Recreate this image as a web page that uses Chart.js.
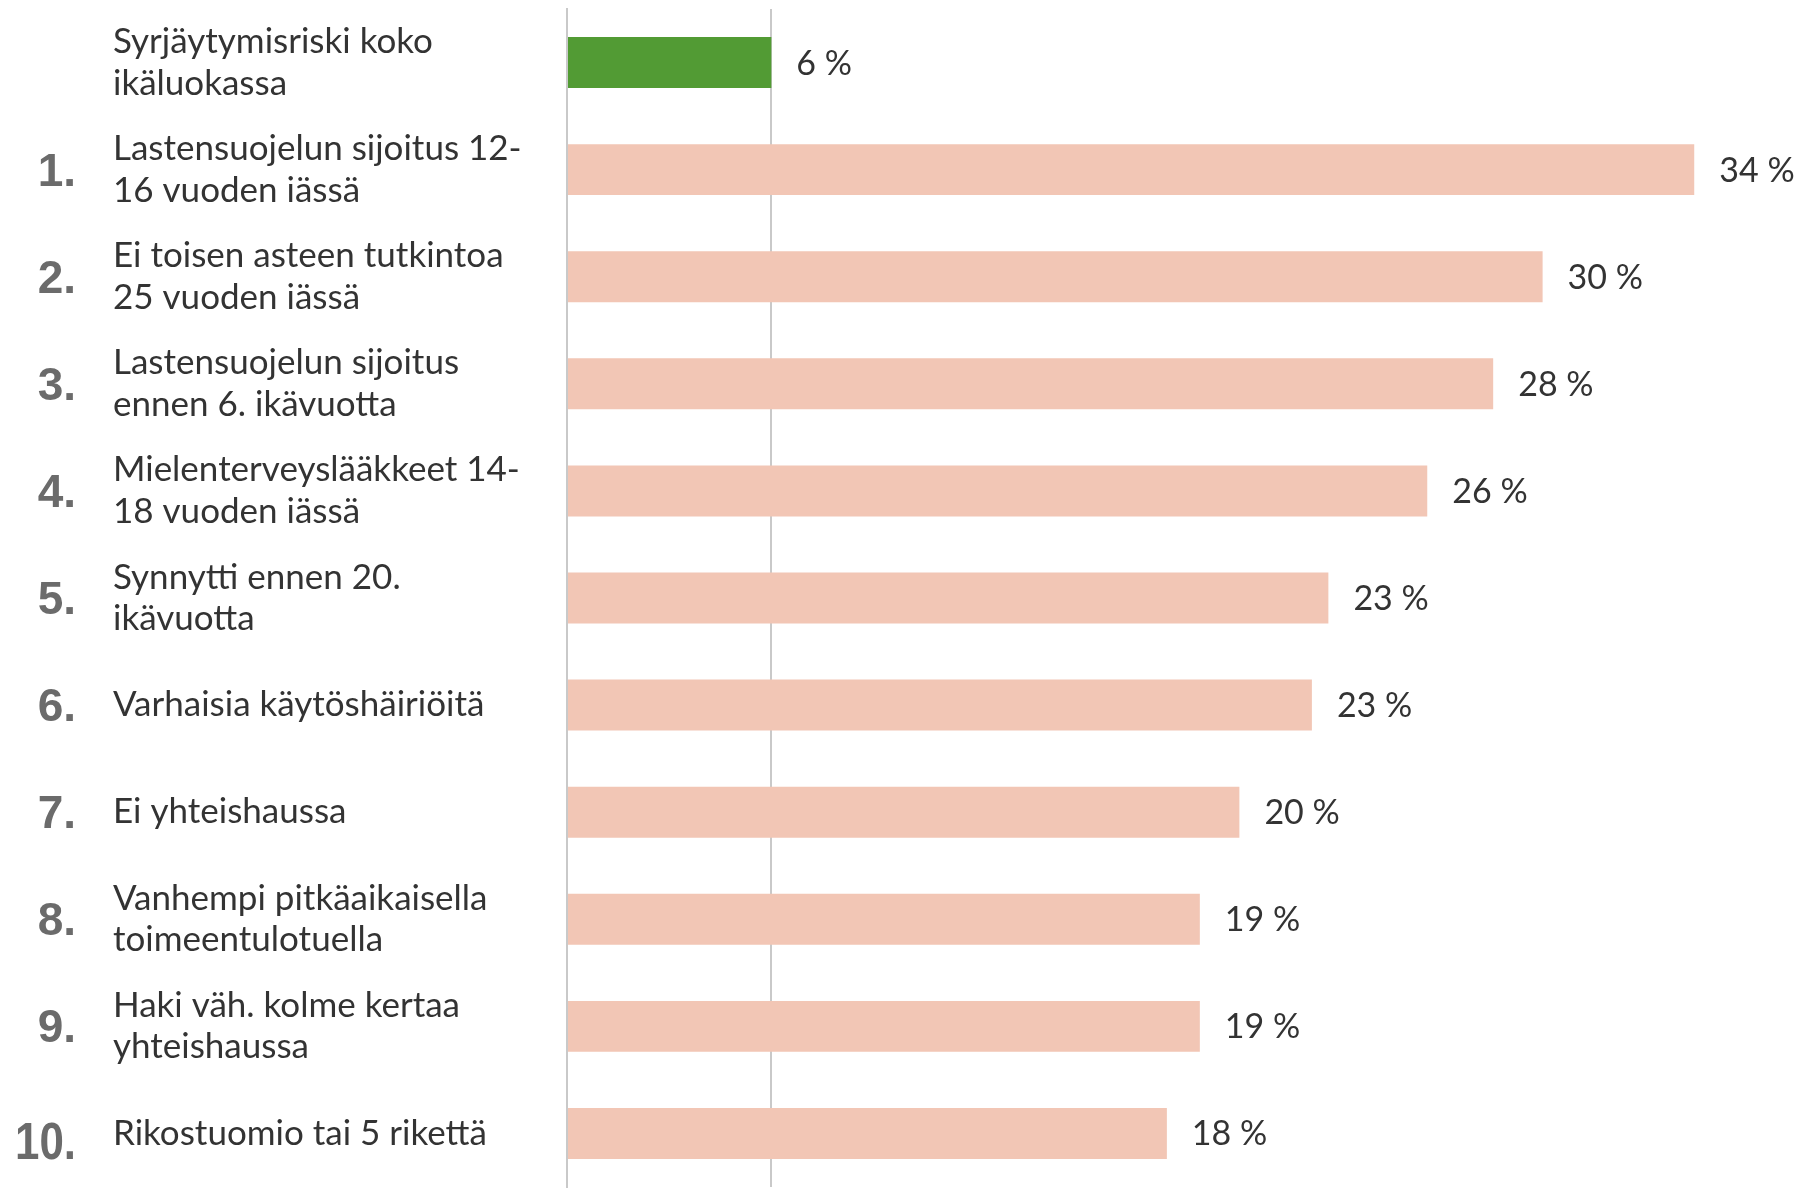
<!DOCTYPE html>
<html>
<head>
<meta charset="utf-8">
<script src="https://cdn.jsdelivr.net/npm/chart.js@4.4.1/dist/chart.umd.min.js"></script>
<style>
  html, body { margin: 0; padding: 0; background: #fff; }
  #wrap { width: 1805px; height: 1191px; position: relative; }
</style>
</head>
<body>
<div id="wrap"><canvas id="canvas"></canvas></div>
<script>
const rankLabels = ['', '1.', '2.', '3.', '4.', '5.', '6.', '7.', '8.', '9.', '10.'];

const categories = [
  ['Syrjäytymisriski koko', 'ikäluokassa'],
  ['Lastensuojelun sijoitus 12-', '16 vuoden iässä'],
  ['Ei toisen asteen tutkintoa', '25 vuoden iässä'],
  ['Lastensuojelun sijoitus', 'ennen 6. ikävuotta'],
  ['Mielenterveyslääkkeet 14-', '18 vuoden iässä'],
  ['Synnytti ennen 20.', 'ikävuotta'],
  'Varhaisia käytöshäiriöitä',
  'Ei yhteishaussa',
  ['Vanhempi pitkäaikaisella', 'toimeentulotuella'],
  ['Haki väh. kolme kertaa', 'yhteishaussa'],
  'Rikostuomio tai 5 rikettä'
];

// bar lengths (percent)
const values = [6.2, 34.2, 29.6, 28.1, 26.1, 23.1, 22.6, 20.4, 19.2, 19.2, 18.2];

// value labels as printed next to the bars
const valueLabels = ['6 %', '34 %', '30 %', '28 %', '26 %', '23 %', '23 %', '20 %', '19 %', '19 %', '18 %'];

const GREEN = '#529b34';
const PINK = '#f2c6b5';
const TEXT = '#333333';
const LABEL_FONT = 'Lato, "Open Sans", sans-serif';

function barColors() {
  return values.map((v, i) => i === 0 ? GREEN : PINK);
}

// values written after each bar
const valueLabelPlugin = {
  id: 'valueLabels',
  afterDatasetsDraw(chart) {
    const ctx = chart.ctx;
    const meta = chart.getDatasetMeta(0);
    ctx.save();
    ctx.fillStyle = TEXT;
    ctx.font = '34px ' + LABEL_FONT;
    ctx.textAlign = 'left';
    ctx.textBaseline = 'middle';
    meta.data.forEach((bar, i) => {
      ctx.fillText(valueLabels[i], bar.x + 25, bar.y + 1);
    });
    ctx.restore();
  }
};

// big grey rank numbers on the far left
const rankPlugin = {
  id: 'ranks',
  afterDraw(chart) {
    const ctx = chart.ctx;
    const yScale = chart.scales.y;
    ctx.save();
    ctx.fillStyle = '#6b6b6b';
    ctx.textAlign = 'right';
    ctx.textBaseline = 'alphabetic';
    rankLabels.forEach((r, i) => {
      if (!r) return;
      const y = yScale.getPixelForValue(i);
      if (r.length > 2) {
        // the "10." is set narrower and a bit taller in the original
        ctx.save();
        ctx.font = 'bold 51px "Liberation Sans", Arial, sans-serif';
        ctx.translate(76, y + 26);
        ctx.scale(0.86, 1);
        ctx.fillText(r, 0, 0);
        ctx.restore();
      } else {
        ctx.font = 'bold 46px "Liberation Sans", Arial, sans-serif';
        ctx.fillText(r, 76, y + 16);
      }
    });
    ctx.restore();
  }
};

const chart = new Chart(document.getElementById('canvas'), {
  type: 'bar',
  data: {
    labels: categories,
    datasets: [
      {
        data: values,
        backgroundColor: barColors(),
        borderWidth: 0,
        barPercentage: 0.476,
        categoryPercentage: 1
      }
    ]
  },
  options: {
    indexAxis: 'y',
    responsive: true,
    maintainAspectRatio: false,
    animation: false,
    layout: {
      padding: { left: 113, top: 9, right: 2, bottom: 4 }
    },
    plugins: {
      legend: { display: false },
      tooltip: { enabled: false }
    },
    scales: {
      x: {
        min: 0,
        max: 37.5,
        afterBuildTicks(scale) {
          // only the baseline and a reference line at the whole age group value
          scale.ticks = [{ value: 0 }, { value: values[0] }];
        },
        ticks: { display: false },
        border: { display: false },
        grid: {
          color: '#c9c9c9',
          lineWidth: 2,
          drawTicks: false
        }
      },
      y: {
        afterFit(scale) {
          scale.width = 454;
          // labels sit inside their category band, no extra room needed
          scale.paddingTop = 0;
          scale.paddingBottom = 0;
        },
        ticks: {
          crossAlign: 'far',
          color: TEXT,
          padding: 0,
          font: { family: LABEL_FONT, size: 35, lineHeight: 1.183 }
        },
        border: { display: true, color: '#c9c9c9', width: 2 },
        grid: { display: false }
      }
    }
  },
  plugins: [valueLabelPlugin, rankPlugin]
});
</script>
</body>
</html>
